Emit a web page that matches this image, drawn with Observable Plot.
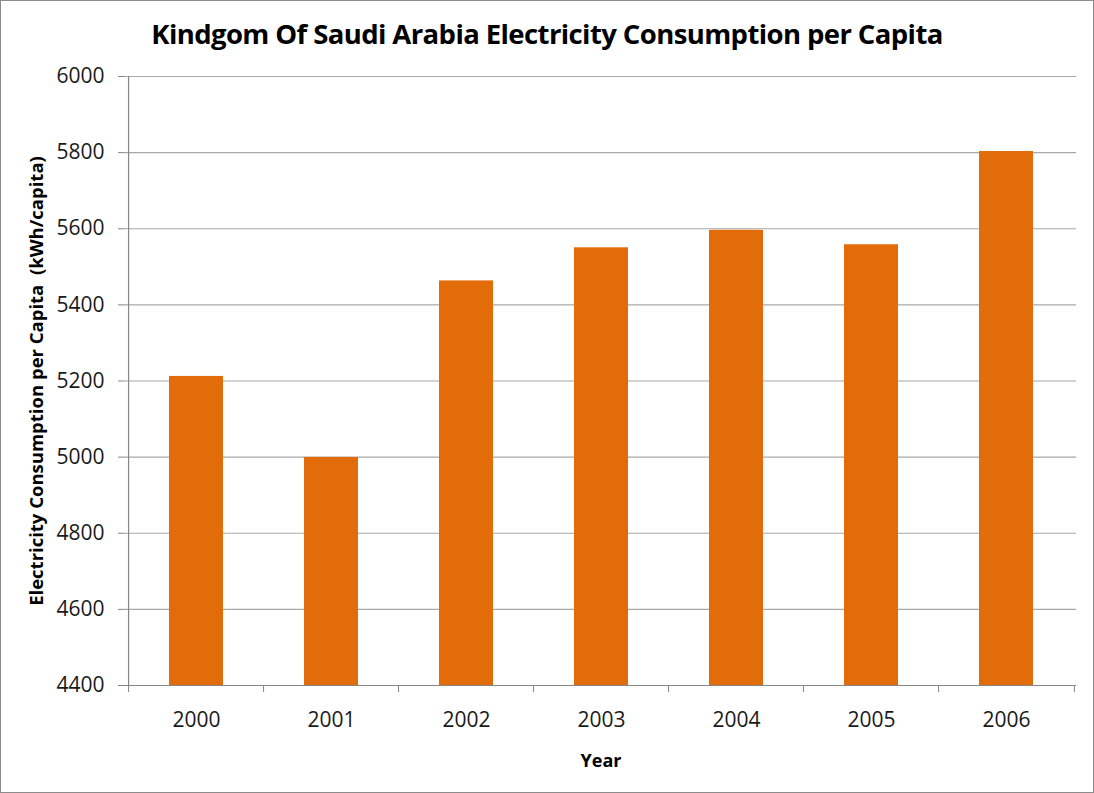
<!DOCTYPE html>
<html>
<head>
<meta charset="utf-8">
<script src="https://cdn.jsdelivr.net/npm/d3@7"></script>
<script src="https://cdn.jsdelivr.net/npm/@observablehq/plot@0.6"></script>
<style>
  html, body { margin: 0; padding: 0; background: #fff; }
  #frame {
    width: 1094px; height: 793px; box-sizing: border-box;
    border: 1px solid #8c8c8c; background: #fff; overflow: hidden;
  }
  #title {
    height: 50px; box-sizing: border-box; padding-top: 18px;
    text-align: center; font-family: "Open Sans", sans-serif; font-weight: 700;
    font-size: 27.5px; line-height: 30px; color: #000; letter-spacing: -0.6px;
    white-space: nowrap;
  }
</style>
</head>
<body>
<div id="frame">
  <div id="title">Kindgom Of Saudi Arabia Electricity Consumption per Capita</div>
  <div id="chart"></div>
</div>
<script>
const years = ["2000", "2001", "2002", "2003", "2004", "2005", "2006"];
const consumption = [5212, 4999, 5463, 5550, 5596, 5558, 5803];
const yTicks = [4400, 4600, 4800, 5000, 5200, 5400, 5600, 5800, 6000];
const yLabel = "Electricity Consumption per Capita  (kWh/capita)";
const xLabel = "Year";

const data = years.map((y, i) => ({year: y, value: consumption[i]}));

const W = 1092, H = 741;
const mL = 124, mR = 17, mT = 25, mB = 107;
const step = (W - mL - mR) / years.length;
const axisColor = "#868686";
const gridColor = "#a8a8a8";
const font = "'Open Sans', sans-serif";

const chart = Plot.plot({
  width: W,
  height: H,
  marginLeft: mL,
  marginRight: mR,
  marginTop: mT,
  marginBottom: mB,
  style: {fontFamily: font, fontSize: "21px", color: "#1a1a1a", background: "#fff", overflow: "visible"},
  x: {type: "band", domain: years, paddingInner: 0.6, paddingOuter: 0.3},
  y: {domain: [4400, 6000]},
  marks: [
    Plot.gridY(yTicks, {stroke: gridColor, strokeOpacity: 1, strokeWidth: 1.2}),
    Plot.barY(data, {x: "year", y1: 4400, y2: "value", fill: "#E36C0A"}),
    // y axis line
    Plot.ruleX([years[0]], {y1: 4400, y2: 6000, dx: -step / 2, stroke: axisColor, strokeWidth: 1.2}),
    // x axis line
    Plot.ruleY([4400], {stroke: axisColor, strokeWidth: 1.2}),
    // x boundary tick marks
    Plot.ruleX(years, {y1: 4400, y2: 4400, insetBottom: -7, dx: -step / 2, stroke: axisColor}),
    Plot.ruleX([years[years.length - 1]], {y1: 4400, y2: 4400, insetBottom: -7, dx: step / 2, stroke: axisColor}),
    Plot.axisY({ticks: yTicks, tickFormat: d => String(d), tickSize: 7, tickPadding: 14, stroke: axisColor, label: null, fontSize: 21, fill: "#1a1a1a"}),
    Plot.axisX({tickSize: 0, tickPadding: 27, label: null, fontSize: 21, fill: "#1a1a1a"}),
    Plot.text([yLabel], {frameAnchor: "left", dx: -88, rotate: -90, fontWeight: "bold", fontSize: 18.5, fill: "#000", textAnchor: "middle"}),
    Plot.text([xLabel], {frameAnchor: "bottom", dy: 76, fontWeight: "bold", fontSize: 18, fill: "#000", lineAnchor: "middle"})
  ]
});
document.getElementById("chart").appendChild(chart);
</script>
</body>
</html>
